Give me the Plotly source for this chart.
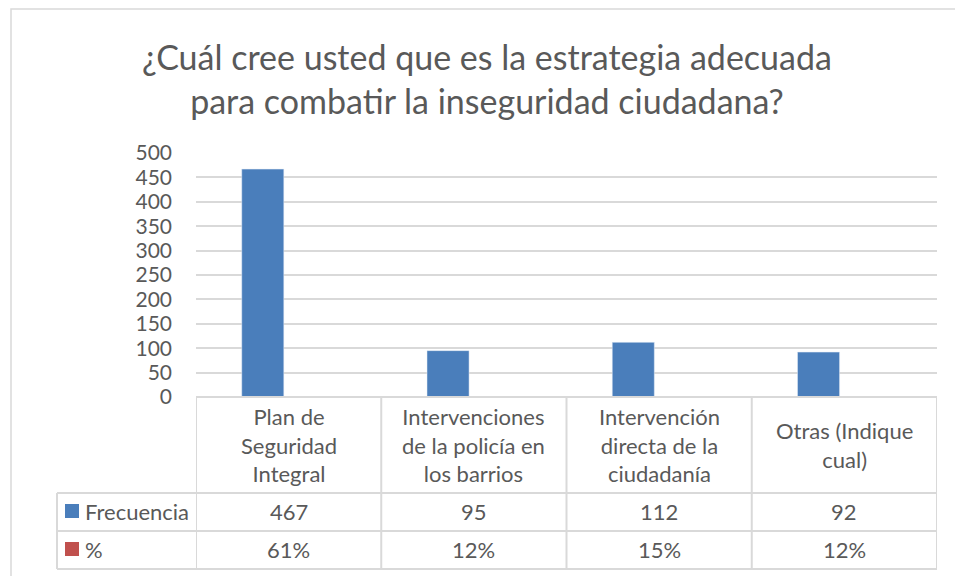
import plotly.graph_objects as go

# ---------------- data ----------------
categories = ["Plan de<br>Seguridad<br>Integral",
              "Intervenciones<br>de la policía en<br>los barrios",
              "Intervención<br>directa de la<br>ciudadanía",
              "Otras (Indique<br>cual)"]
frecuencia = [467, 95, 112, 92]
porcentaje = [0.61, 0.12, 0.15, 0.12]
porcentaje_labels = ["61%", "12%", "15%", "12%"]
series_names = ["Frecuencia", "%"]
y_ticks = [0, 50, 100, 150, 200, 250, 300, 350, 400, 450, 500]
title_text = "¿Cuál cree usted que es la estrategia adecuada<br>para combatir la inseguridad ciudadana?"

# ---------------- layout geometry (window pixels) ----------------
OFF = 8  # page body margin
W, H = 963 - OFF, 576 - OFF
PL, PR, PT, PB = 196, 937, 153, 397  # plot area in window pixels
pw, ph = PR - PL, PB - PT

def px_x(x):
    return (x - PL) / pw

def px_y(y):
    return (PB - y) / ph

BLUE = "#4a7ebb"
RED = "#c0504d"
GRID = "#d9d9d9"
TXT = "#595959"
FONT = "Lato"
FS = 22

xs = list(range(len(categories)))

fig = go.Figure()
fig.add_trace(go.Bar(x=xs, y=frecuencia, name=series_names[0], marker_color=BLUE,
                     width=0.227, offset=-0.253, showlegend=False))
fig.add_trace(go.Bar(x=xs, y=porcentaje, name=series_names[1], marker_color=RED,
                     width=0.227, offset=-0.026, showlegend=False))

shapes = []
line = dict(color=GRID, width=2)
# outer chart border
shapes.append(dict(type="rect", xref="paper", yref="paper",
                   x0=px_x(11), x1=px_x(990), y0=px_y(9), y1=px_y(600),
                   line=dict(color="#d9d9d9", width=1.5), layer="below"))
# table horizontal lines
row_y = [PB, 493, 531, 569]
for i, yy in enumerate(row_y):
    x0 = PL if i == 0 else 57
    shapes.append(dict(type="line", xref="paper", yref="paper",
                       x0=px_x(x0), x1=px_x(PR), y0=px_y(yy), y1=px_y(yy), line=line))
# left vertical line of legend column
shapes.append(dict(type="line", xref="paper", yref="paper",
                   x0=px_x(57), x1=px_x(57), y0=px_y(493), y1=px_y(569), line=line))
# column boundaries
for b in [i - 0.5 for i in range(len(categories) + 1)]:
    shapes.append(dict(type="line", xref="x", yref="paper",
                       x0=b, x1=b, y0=px_y(PB), y1=px_y(569), line=line))
# legend keys
shapes.append(dict(type="rect", xref="paper", yref="paper",
                   x0=px_x(65), x1=px_x(79), y0=px_y(504), y1=px_y(518),
                   fillcolor=BLUE, line=dict(width=0)))
shapes.append(dict(type="rect", xref="paper", yref="paper",
                   x0=px_x(65), x1=px_x(79), y0=px_y(542), y1=px_y(556),
                   fillcolor=RED, line=dict(width=0)))

annotations = []
for i, c in enumerate(categories):
    annotations.append(dict(x=xs[i], xref="x", y=px_y(445), yref="paper", text=c,
                            showarrow=False, xanchor="center", yanchor="middle",
                            font=dict(family=FONT, size=FS, color=TXT)))
    annotations.append(dict(x=xs[i], xref="x", y=px_y(511), yref="paper", text=str(frecuencia[i]),
                            showarrow=False, xanchor="center", yanchor="middle",
                            font=dict(family=FONT, size=FS, color=TXT)))
    annotations.append(dict(x=xs[i], xref="x", y=px_y(549), yref="paper", text=porcentaje_labels[i],
                            showarrow=False, xanchor="center", yanchor="middle",
                            font=dict(family=FONT, size=FS, color=TXT)))
annotations.append(dict(x=px_x(83), xref="paper", y=px_y(511), yref="paper", text=series_names[0],
                        showarrow=False, xanchor="left", yanchor="middle",
                        font=dict(family=FONT, size=FS, color=TXT)))
annotations.append(dict(x=px_x(83), xref="paper", y=px_y(549), yref="paper", text=series_names[1],
                        showarrow=False, xanchor="left", yanchor="middle",
                        font=dict(family=FONT, size=FS, color=TXT)))

fig.update_layout(
    width=W, height=H,
    margin=dict(l=PL - OFF, r=W - (PR - OFF), t=PT - OFF, b=H - (PB - OFF), pad=0),
    paper_bgcolor="white", plot_bgcolor="white",
    title=dict(text=title_text, x=(487 - OFF) / W, xanchor="center", y=1 - (70 - OFF) / H,
               yanchor="middle", font=dict(family=FONT, size=34, color=TXT)),
    xaxis=dict(range=[-0.5, 3.5], showticklabels=False, showgrid=False, zeroline=False,
               showline=False, ticks=""),
    yaxis=dict(range=[0, 500], tickvals=y_ticks, showgrid=True, gridcolor=GRID, gridwidth=2,
               zeroline=False, showline=False, ticks="", ticklabelstandoff=23,
               tickfont=dict(family=FONT, size=21, color=TXT)),
    barmode="overlay",
    shapes=shapes, annotations=annotations,
)

fig.write_html("out.html")
